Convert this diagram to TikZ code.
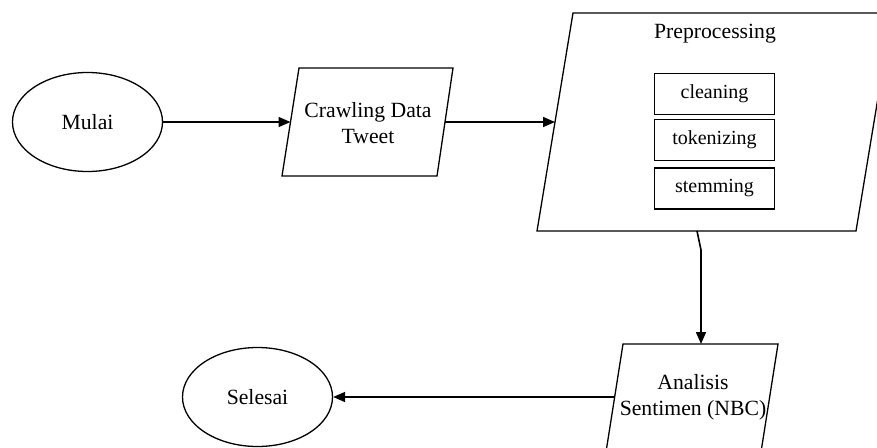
\documentclass[tikz,border=0pt]{standalone}
\usepackage{fontspec}
\setmainfont{Liberation Serif}
\usetikzlibrary{arrows.meta,shapes.geometric}
\begin{document}
\begin{tikzpicture}[x=1pt,y=-1pt,
  shapeline/.style={draw=black,line width=1.3pt,line join=miter},
  term/.style={ellipse,draw=black,line width=1.3pt,minimum width=150pt,minimum height=99pt,inner sep=0pt,font=\fontsize{21.7}{26}\selectfont},
  lbl/.style={align=center,font=\fontsize{21.7}{25.5}\selectfont,inner sep=0pt},
  subbox/.style={draw=black,line width=1.3pt,minimum width=120pt,minimum height=41pt,inner sep=0pt,font=\fontsize{20}{24}\selectfont},
  arr/.style={line width=1.6pt,-{Triangle[length=12pt,width=10pt]}}]
\useasboundingbox (0,0) rectangle (877,447);
\clip (0,0) rectangle (877,447);
% terminals
\node[term] (mulai) at (87.5,122) {Mulai};
\node[term] (selesai) at (257.5,397) {Selesai};
% Crawling Data Tweet
\draw[shapeline] (299,68) -- (453,68) -- (437,176) -- (282,176) -- cycle;
\coordinate (crawlW) at (290.5,122);
\coordinate (crawlE) at (445,122);
\node[lbl] (crawltext) at (368,123) {Crawling Data\\Tweet};
% Preprocessing
\draw[shapeline] (573,13) -- (892,13) -- (856,231) -- (537,231) -- cycle;
\coordinate (preW) at (555,122);
\coordinate (preS) at (697,231);
\node[lbl] (pretitle) at (715,34) {Preprocessing};
\node[subbox] (cleaning) at (714.5,94) {cleaning};
\node[subbox] (tokenizing) at (714.5,140) {tokenizing};
\node[subbox] (stemming) at (714.5,188.5) {stemming};
% Analisis Sentimen
\draw[shapeline] (623,344) -- (778,344) -- (761,452) -- (606,452) -- cycle;
\coordinate (anaN) at (701,344);
\coordinate (anaW) at (615,397);
\node[lbl] (anatext) at (693,397.5) {Analisis\\Sentimen (NBC)};
% connectors
\draw[arr] (mulai.east) -- (crawlW);
\draw[arr] (crawlE) -- (preW);
\draw[arr] (preS) -- ++(4,19) -- (anaN);
\draw[arr] (anaW) -- (selesai.east);
\end{tikzpicture}
\end{document}
